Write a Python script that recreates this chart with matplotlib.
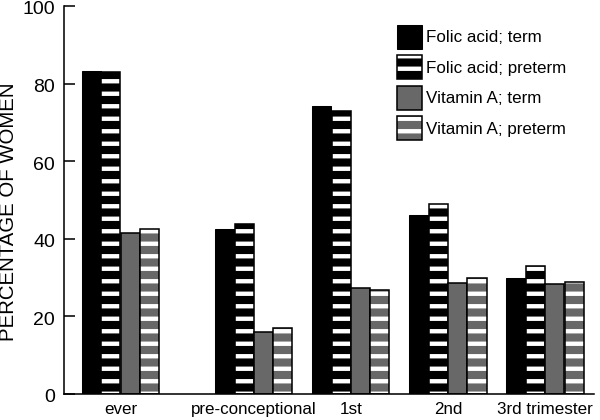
import numpy as np
import matplotlib
matplotlib.use("Agg")
import matplotlib.pyplot as plt
from matplotlib.patches import Patch
from matplotlib.transforms import ScaledTranslation

# ---------------- data ----------------
groups = ["ever", "pre-conceptional", "1st", "2nd", "3rd trimester"]
folic_term = [83.2, 42.4, 74.1, 46.1, 30.0]
folic_preterm = [83.0, 43.7, 73.0, 48.9, 32.9]
vita_term = [41.6, 15.9, 27.2, 28.7, 28.4]
vita_preterm = [42.4, 17.0, 26.9, 30.0, 28.8]
labels = ["Folic acid; term", "Folic acid; preterm",
          "Vitamin A; term", "Vitamin A; preterm"]

# group positions (the first gap is wider in the original)
pos = np.array([0, 1.375, 2.375, 3.375, 4.375])

plt.rcParams["font.family"] = ["Liberation Sans", "DejaVu Sans"]
plt.rcParams["hatch.linewidth"] = 4.2

gray = "#686868"
fig = plt.figure(figsize=(8, 5.6), dpi=75)
ax = fig.add_axes([64 / 600, 26 / 420, 530 / 600, 388 / 420])

w = 0.196
series = [folic_term, folic_preterm, vita_term, vita_preterm]
faces = ["black", "black", gray, gray]
striped = [False, True, False, True]
offs = [-1.5, -0.5, 0.5, 1.5]
handles = []
for vals, fc, st, o in zip(series, faces, striped, offs):
    xs = pos + o * 0.2
    if st:
        # white stripes via hatch, then a black outline on top
        ax.bar(xs, vals, w, color=fc, edgecolor="white", hatch="-", linewidth=0)
        ax.bar(xs, vals, w, fill=False, edgecolor="black", linewidth=1.5)
        handles.append((Patch(facecolor=fc, edgecolor="white", hatch="-", linewidth=0),
                        Patch(fill=False, edgecolor="black", linewidth=1.5)))
    else:
        ax.bar(xs, vals, w, color=fc, edgecolor="black", linewidth=1.5 if fc == gray else 1)
        handles.append(Patch(facecolor=fc, edgecolor="black", linewidth=1.5 if fc == gray else 1))

ax.set_xlim(-0.582, 4.881)
ax.set_ylim(0, 100)
ax.set_yticks([0, 20, 40, 60, 80, 100])
ax.set_xticks(pos)
ax.set_xticklabels(groups, fontsize=16.3)
ax.tick_params(axis="x", length=0, pad=8)
ax.tick_params(axis="y", direction="in", length=11, width=1.5, labelsize=18.7, pad=8.5)
shift = ScaledTranslation(0, -2 / 75, fig.dpi_scale_trans)
for lab in ax.get_yticklabels():
    lab.set_transform(lab.get_transform() + shift)
for s in ["top", "right"]:
    ax.spines[s].set_visible(False)
for s in ["left", "bottom"]:
    ax.spines[s].set_linewidth(1.5)

fig.text(8.5 / 600, 1 - 211.5 / 420, "PERCENTAGE OF WOMEN", rotation=90,
         ha="center", va="center", fontsize=19.6)

ax.legend(handles, labels, loc="upper left", bbox_to_anchor=(396.7 / 600, 1 - 25 / 420),
          bbox_transform=fig.transFigure, frameon=False, fontsize=16.3,
          handlelength=1.47, handleheight=1.79, labelspacing=0.38,
          handletextpad=0.24, borderpad=0, borderaxespad=0)

fig.savefig("out.png", dpi=75)
